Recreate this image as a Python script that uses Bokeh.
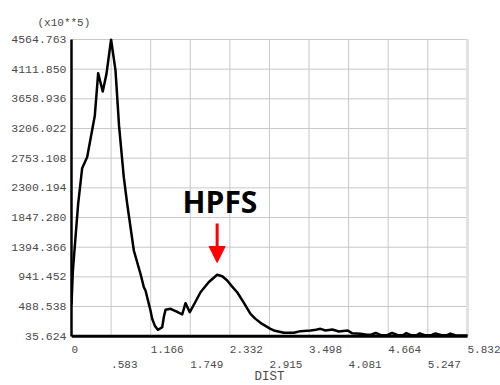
from bokeh.plotting import figure
from bokeh.models import (Range1d, FixedTicker, NumeralTickFormatter, Label,
                          Arrow, NormalHead)
from bokeh.core.properties import value
from bokeh.embed import file_html
from bokeh.resources import INLINE

# ---------------- data ----------------
dist = [0.0, 0.02, 0.06, 0.098, 0.157, 0.231, 0.343, 0.393, 0.46, 0.515,
        0.583, 0.648, 0.70, 0.77, 0.82, 0.918, 1.016, 1.065, 1.09, 1.163,
        1.188, 1.23, 1.271, 1.336, 1.36, 1.385, 1.458, 1.55, 1.63, 1.679,
        1.742, 1.82, 1.90, 2.02, 2.145, 2.22, 2.293, 2.36, 2.44, 2.53,
        2.636, 2.71, 2.783, 2.93, 2.98, 3.127, 3.274, 3.373, 3.52, 3.60,
        3.667, 3.74, 3.84, 3.937, 4.07, 4.13, 4.256, 4.35, 4.42, 4.48,
        4.55, 4.65, 4.72, 4.80, 4.88, 4.93, 5.00, 5.08, 5.13, 5.20,
        5.30, 5.36, 5.45, 5.53, 5.58, 5.65, 5.75, 5.832]
values = [520, 1030, 1560, 2055, 2600, 2770, 3400, 4050, 3770, 4040,
          4565, 4093, 3250, 2463, 2057, 1344, 988, 784, 733, 428,
          301, 190, 133, 173, 330, 439, 454, 410, 367, 540,
          402, 550, 707, 860, 973, 950, 886, 800, 707, 560,
          378, 300, 240, 148, 123, 88, 88, 113, 123, 135,
          148, 123, 138, 108, 123, 82, 72, 58, 62, 85,
          55, 52, 85, 55, 50, 82, 52, 50, 80, 52,
          50, 78, 50, 52, 76, 50, 48, 45]

y_ticks = [35.624, 488.538, 941.452, 1394.366, 1847.280, 2300.194,
           2753.108, 3206.022, 3658.936, 4111.850, 4564.763]
x_ticks = [0.0, 0.583, 1.166, 1.749, 2.332, 2.915, 3.498, 4.081, 4.664, 5.247, 5.832]
x_labels_row1 = ["0", "1.166", "2.332", "3.498", "4.664", "5.832"]
x_labels_row2 = [".583", "1.749", "2.915", "4.081", "5.247"]
x_label_text = "DIST"
y_scale_text = "(x10**5)"
peak_label = "HPFS"
peak_x = 2.145

# ---------------- layout helpers ----------------
MONO = "Liberation Mono"
TXT = "#4a4a4a"
GRID = "#c8c8c8"
X0, X1 = x_ticks[0], x_ticks[-1]
Y0, Y1 = y_ticks[0], y_ticks[-1]
PX_X = (X1 - X0) / 396.0      # data units per pixel (x)
PX_Y = (Y1 - Y0) / 296.7      # data units per pixel (y)
W, H = 500, 384
LEFT, TOP = 71, 38
AXIS_PY = 335.7               # pixel row of the x axis


def y_at(py):
    return Y0 - (py - AXIS_PY) * PX_Y


p = figure(width=W, height=H, output_backend="svg", toolbar_location=None,
           x_range=Range1d(X0, X0 + (W - LEFT) * PX_X),
           y_range=Range1d(y_at(H), Y1 + (39 - TOP) * PX_Y),
           min_border_left=LEFT, min_border_right=0, min_border_top=TOP,
           min_border_bottom=0)
p.background_fill_color = "white"
p.border_fill_color = "white"
p.outline_line_color = None
p.xgrid.visible = False
p.ygrid.visible = False
p.xaxis.visible = False

# title used as the y scale note
p.title.text = y_scale_text
p.title.text_font = MONO
p.title.text_font_style = "normal"
p.title.text_font_size = "11px"
p.title.text_color = TXT
p.title.align = "left"
p.title.offset = -34
p.title.standoff = 20

# y axis
p.yaxis.ticker = FixedTicker(ticks=y_ticks)
p.yaxis.bounds = (Y0, Y1)
p.yaxis.formatter = NumeralTickFormatter(format="0.000")
p.yaxis.major_tick_line_color = None
p.yaxis.minor_tick_line_color = None
p.yaxis.major_tick_out = 0
p.yaxis.major_label_standoff = 5
p.yaxis.major_label_text_font = MONO
p.yaxis.major_label_text_font_size = "11.5px"
p.yaxis.major_label_text_color = TXT
p.yaxis.axis_line_color = "black"
p.yaxis.axis_line_width = 2.5

# grid lines limited to the plotting box
p.segment(x0=x_ticks, y0=[Y0] * len(x_ticks), x1=x_ticks, y1=[Y1] * len(x_ticks),
          line_color=GRID, line_width=1)
p.segment(x0=[X0] * len(y_ticks), y0=y_ticks, x1=[X1] * len(y_ticks), y1=y_ticks,
          line_color=GRID, line_width=1)
p.segment(x0=[X1], y0=[Y0], x1=[X1], y1=[Y1], line_color="#e2e2e2", line_width=3)

# x axis line
p.segment(x0=[X0], y0=[Y0], x1=[X1], y1=[Y0], line_color="black", line_width=3)

# curve
p.line(dist, values, line_color="black", line_width=2.5, line_join="round")

# x tick labels in two staggered rows + axis title
ticks_row1 = x_ticks[0::2]
ticks_row2 = x_ticks[1::2]
p.text(x=ticks_row1, y=[y_at(348.5)] * len(ticks_row1), text=x_labels_row1,
       text_font=value(MONO), text_font_size=value("11px"), text_color=TXT,
       text_align="left", text_baseline="middle", x_offset=0)
p.text(x=ticks_row2, y=[y_at(363.7)] * len(ticks_row2), text=x_labels_row2,
       text_font=value(MONO), text_font_size=value("11px"), text_color=TXT,
       text_align="left", text_baseline="middle", x_offset=0)
p.text(x=[(X0 + X1) / 2], y=[y_at(376.5)], text=[x_label_text],
       text_font=value(MONO), text_font_size=value("12.5px"), text_color=TXT,
       text_align="center", text_baseline="middle")

# annotation
p.add_layout(Label(x=2.187, y=y_at(201), text=peak_label, text_font="Open Sans",
                   text_font_style="bold", text_font_size="30px",
                   text_color="black", text_align="center",
                   text_baseline="alphabetic"))
p.add_layout(Arrow(end=NormalHead(size=16, fill_color="red", line_color="red"),
                   x_start=peak_x, y_start=y_at(223), x_end=peak_x, y_end=y_at(262),
                   line_color="red", line_width=3))

open("out.html", "w").write(file_html(p, INLINE))
